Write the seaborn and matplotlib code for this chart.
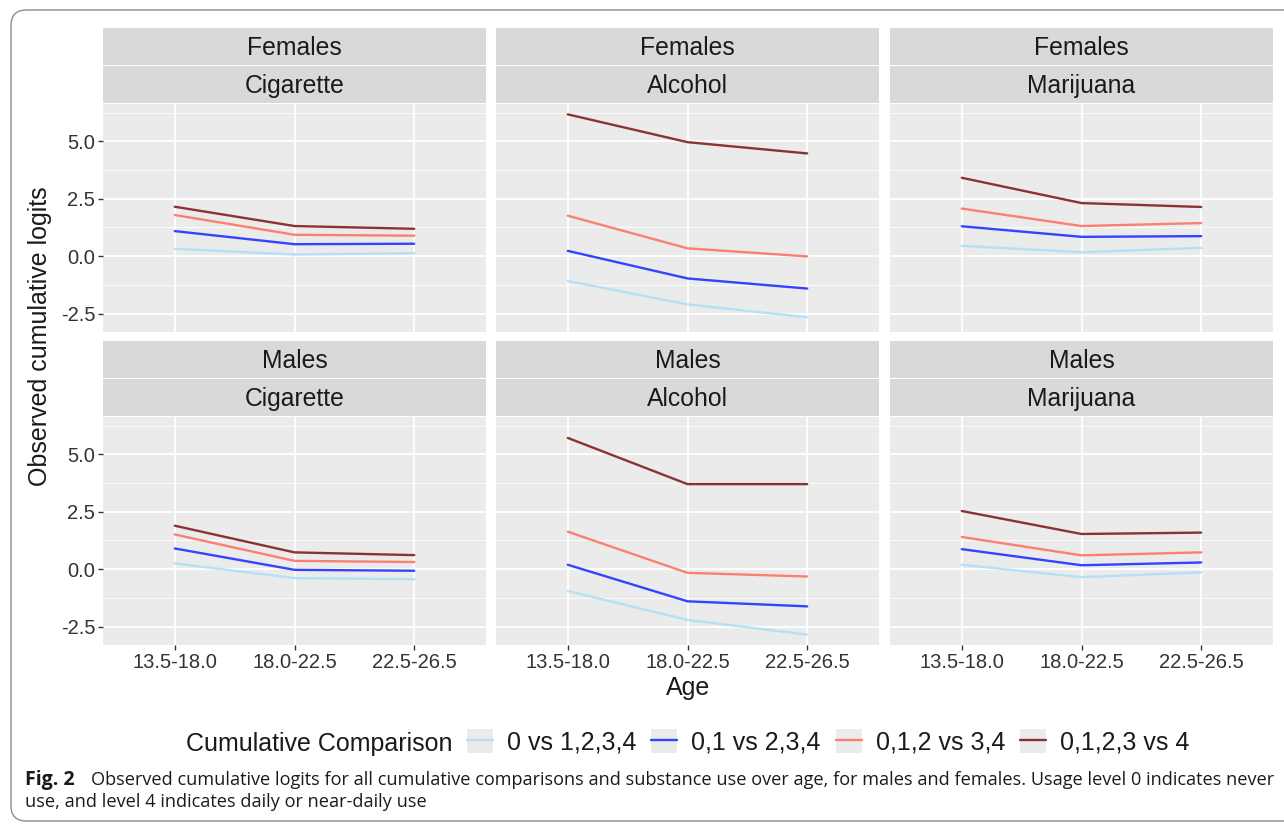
import numpy as np
import pandas as pd
import matplotlib
matplotlib.use("Agg")
import matplotlib.pyplot as plt
import seaborn as sns
from matplotlib.patches import Rectangle, FancyBboxPatch, Patch
from matplotlib.lines import Line2D
from matplotlib.legend_handler import HandlerTuple
from matplotlib.ticker import MultipleLocator, FormatStrFormatter

# Chart values
ages = ["13.5-18.0", "18.0-22.5", "22.5-26.5"]
comparisons = ["0 vs 1,2,3,4", "0,1 vs 2,3,4", "0,1,2 vs 3,4", "0,1,2,3 vs 4"]
sexes = ["Females", "Males"]
substances = ["Cigarette", "Alcohol", "Marijuana"]

# one list per comparison, same order as `comparisons`
fem_cigarette = [[0.32, 0.07, 0.13], [1.09, 0.52, 0.54], [1.79, 0.93, 0.89], [2.15, 1.31, 1.19]]
fem_alcohol = [[-1.08, -2.10, -2.66], [0.23, -0.97, -1.41], [1.76, 0.34, -0.01], [6.17, 4.96, 4.47]]
fem_marijuana = [[0.45, 0.17, 0.36], [1.30, 0.84, 0.87], [2.07, 1.31, 1.44], [3.41, 2.31, 2.14]]
mal_cigarette = [[0.25, -0.39, -0.44], [0.90, -0.03, -0.07], [1.51, 0.36, 0.31], [1.89, 0.73, 0.61]]
mal_alcohol = [[-0.95, -2.21, -2.85], [0.19, -1.40, -1.62], [1.63, -0.16, -0.32], [5.71, 3.70, 3.70]]
mal_marijuana = [[0.19, -0.35, -0.14], [0.87, 0.17, 0.29], [1.40, 0.60, 0.73], [2.53, 1.53, 1.59]]

palette = ["#B5E0F7", "#3344FF", "#FA8072", "#8B3333"]

panels = {
    ("Females", "Cigarette"): fem_cigarette,
    ("Females", "Alcohol"): fem_alcohol,
    ("Females", "Marijuana"): fem_marijuana,
    ("Males", "Cigarette"): mal_cigarette,
    ("Males", "Alcohol"): mal_alcohol,
    ("Males", "Marijuana"): mal_marijuana,
}

rows = []
for (sex, sub), series in panels.items():
    for comp, vals in zip(comparisons, series):
        for age, v in zip(ages, vals):
            rows.append({"sex": sex, "substance": sub, "comparison": comp, "age": age, "logit": v})
df = pd.DataFrame(rows)

sns.set_theme(style="darkgrid", rc={
    "axes.facecolor": "#EBEBEB",
    "grid.color": "white",
    "axes.edgecolor": "none",
    "axes.unicode_minus": False,
})
plt.rcParams["font.family"] = ["Liberation Sans", "DejaVu Sans"]

W, H = 1284, 824
fig = plt.figure(figsize=(W / 100, H / 100), dpi=100)
fig.patch.set_facecolor("white")

col_x = [103, 496, 890]
col_w = 383
row_top = [104, 417]
row_h = 228
strip_h = 38

lo, hi = df["logit"].min(), df["logit"].max()
pad = 0.05 * (hi - lo)

for r, sex in enumerate(sexes):
    for c, sub in enumerate(substances):
        ax = fig.add_axes([col_x[c] / W, 1 - (row_top[r] + row_h) / H, col_w / W, row_h / H])
        d = df[(df["sex"] == sex) & (df["substance"] == sub)]
        sns.lineplot(data=d, x="age", y="logit", hue="comparison", hue_order=comparisons,
                     palette=palette, ax=ax, legend=False, sort=False, linewidth=1.7)
        ax.set_xlim(-0.6, 2.6)
        ax.set_ylim(lo - pad, hi + pad)
        ax.yaxis.set_major_locator(MultipleLocator(2.5))
        ax.yaxis.set_minor_locator(MultipleLocator(1.25))
        ax.yaxis.set_major_formatter(FormatStrFormatter("%.1f"))
        ax.grid(which="major", color="white", linewidth=1.3)
        ax.grid(which="minor", axis="y", color="white", linewidth=0.6)
        ax.set_xlabel("")
        ax.set_ylabel("")
        ax.tick_params(axis="both", which="major", labelsize=14.5, labelcolor="#333333",
                       color="#333333", length=3.5, width=1, pad=2)
        ax.tick_params(axis="y", which="minor", left=False)
        ax.tick_params(axis="x", bottom=(r == 1), labelbottom=(r == 1))
        ax.tick_params(axis="y", left=(c == 0), labelleft=(c == 0))

        # two stacked strip labels, ggplot style
        for k, lab in enumerate([sex, sub]):
            top_px = row_top[r] - strip_h * (2 - k)
            rect = Rectangle((col_x[c] / W, 1 - (top_px + strip_h - 1) / H), col_w / W, (strip_h - 1) / H,
                             transform=fig.transFigure, facecolor="#D9D9D9", edgecolor="none")
            fig.patches.append(rect)
            fig.text((col_x[c] + col_w / 2) / W, 1 - (top_px + strip_h / 2 + 1) / H, lab,
                     ha="center", va="center", fontsize=17.8, color="#1A1A1A")

fig.text(40 / W, 1 - 336 / H, "Observed cumulative logits", rotation=90,
         ha="center", va="center", fontsize=18, color="#1A1A1A")
fig.text(688 / W, 1 - 688 / H, "Age", ha="center", va="center", fontsize=18, color="#1A1A1A")

# legend
handles = [(Patch(facecolor="#EBEBEB", edgecolor="none"), Line2D([], [], color=col, lw=1.7))
           for col in palette]
fig.text(453 / W, 1 - 744 / H, "Cumulative Comparison", ha="right", va="center",
         fontsize=18, color="#1A1A1A")
leg = fig.legend(handles, comparisons, handler_map={tuple: HandlerTuple(ndivide=1, pad=0)},
                 loc="center left", bbox_to_anchor=(467 / W, 1 - 742 / H), ncol=4,
                 frameon=False, fontsize=18, handlelength=1.04, handleheight=1.08,
                 handletextpad=0.56, columnspacing=0.6, borderpad=0, borderaxespad=0)
for t in leg.get_texts():
    t.set_color("#1A1A1A")

# caption
cap_font = ["Open Sans", "DejaVu Sans"]
fig.text(25 / W, 1 - 780 / H, "Fig. 2", ha="left", va="center", fontsize=14,
         fontweight="bold", family=cap_font, color="#1A1A1A")
fig.text(91 / W, 1 - 780 / H,
         "Observed cumulative logits for all cumulative comparisons and substance use over age, "
         "for males and females. Usage level 0 indicates never",
         ha="left", va="center", fontsize=13.05, family=cap_font, color="#1A1A1A")
fig.text(25 / W, 1 - 802 / H, "use, and level 4 indicates daily or near-daily use",
         ha="left", va="center", fontsize=13.05, family=cap_font, color="#1A1A1A")

border = FancyBboxPatch((11 / W, 1 - 821 / H), (1300 - 11) / W, (821 - 10) / H,
                        boxstyle="round,pad=0,rounding_size=0.012", mutation_aspect=W / H,
                        transform=fig.transFigure, fill=False, edgecolor="#8C8C8C", linewidth=1)
fig.patches.append(border)

fig.savefig("out.png", dpi=100)
